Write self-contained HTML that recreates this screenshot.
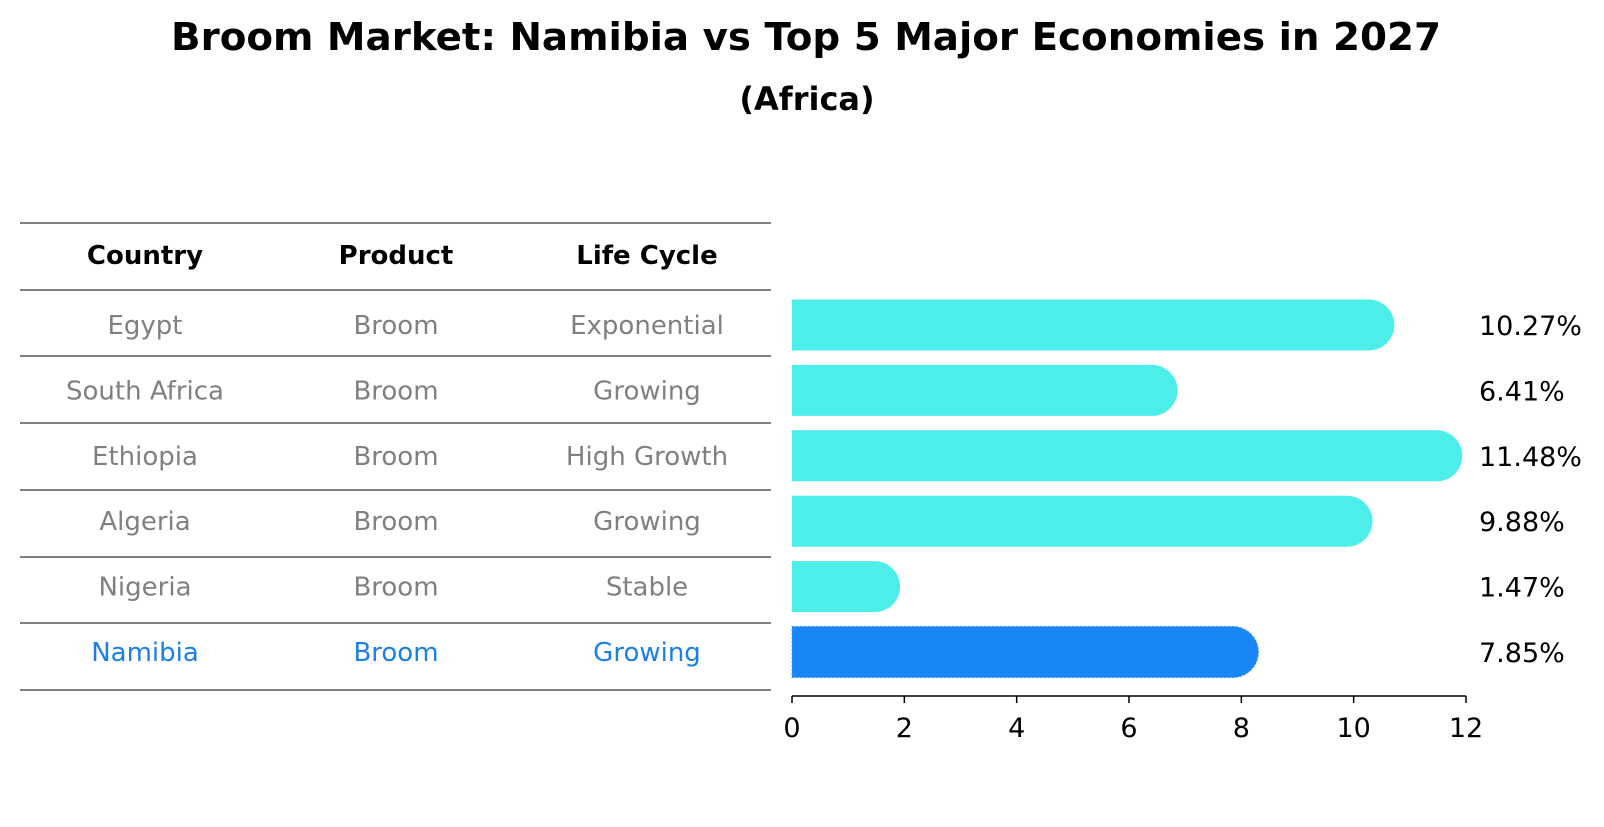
<!DOCTYPE html>
<html><head><meta charset="utf-8"><style>
body{margin:0;background:#fff;font-family:"DejaVu Sans","Liberation Sans",sans-serif}
</style></head><body>
<svg width="1604" height="823" viewBox="0 0 1604 823" xmlns="http://www.w3.org/2000/svg" font-family="DejaVu Sans, Liberation Sans, sans-serif">
<text x="806" y="50" text-anchor="middle" font-size="38" font-weight="bold" textLength="1270" lengthAdjust="spacingAndGlyphs">Broom Market: Namibia vs Top 5 Major Economies in 2027</text>
<text x="807" y="110" text-anchor="middle" font-size="32" font-weight="bold">(Africa)</text>
<g id="table"></g>
<g id="bars"></g>
</svg>
<script>
const countries=["Egypt","South Africa","Ethiopia","Algeria","Nigeria","Namibia"];
const products=["Broom","Broom","Broom","Broom","Broom","Broom"];
const lifeCycles=["Exponential","Growing","High Growth","Growing","Stable","Growing"];
const values=[10.27,6.41,11.48,9.88,1.47,7.85];
const ticks=[0,2,4,6,8,10,12];
const NS="http://www.w3.org/2000/svg";
function mk(tag,attrs,parent){const e=document.createElementNS(NS,tag);for(const k in attrs)e.setAttribute(k,attrs[k]);parent.appendChild(e);return e;}
const x0=792,x1=1466,xmax=12;
const xs=v=>x0+(x1-x0)*v/xmax;
const rowY=i=>325+i*65.4;
const tbl=document.getElementById('table');
const lines=[223,290,356,423,490,557,623,690];
lines.forEach(y=>{const l=mk('line',{x1:20,x2:771,y1:y,y2:y,stroke:'#000','stroke-width':1},tbl);

});
const colX=[145,396,647];
["Country","Product","Life Cycle"].forEach((h,j)=>{const t=mk('text',{x:colX[j],y:264,'text-anchor':'middle','font-size':26,'font-weight':'bold'},tbl);t.textContent=h;

});
countries.forEach((c,i)=>{const col=i===countries.length-1?'#1a80e5':'#808080';
[c,products[i],lifeCycles[i]].forEach((s,j)=>{const t=mk('text',{x:colX[j],y:rowY(i)+9,'text-anchor':'middle','font-size':26,fill:col},tbl);t.textContent=s;

});});
const g=document.getElementById('bars');
const h=51,r=25.5;
values.forEach((v,i)=>{const y=rowY(i)-h/2;const xe=xs(v);const last=i===values.length-1;
const d=`M${x0},${y} H${xe} A${r},${r} 0 0 1 ${xe},${y+h} H${x0} Z`;
const p=mk('path',{d:d,fill:last?'#1a85f5':'#4deee9'},g);
if(last){p.setAttribute('stroke','#3399ff');p.setAttribute('stroke-dasharray','2,2');p.setAttribute('stroke-width','1');}


const t=mk('text',{x:1479,y:rowY(i)+10,'font-size':27},g);t.textContent=v.toFixed(2)+'%';

});
const ax=mk('line',{x1:x0,x2:x1,y1:696,y2:696,stroke:'#000','stroke-width':1.5},g);


ticks.forEach(tv=>{const x=xs(tv);const tl=mk('line',{x1:x,x2:x,y1:696,y2:703,stroke:'#000','stroke-width':1.5},g);


const t=mk('text',{x:x,y:737,'text-anchor':'middle','font-size':27},g);t.textContent=tv;

});
</script>
</body></html>
